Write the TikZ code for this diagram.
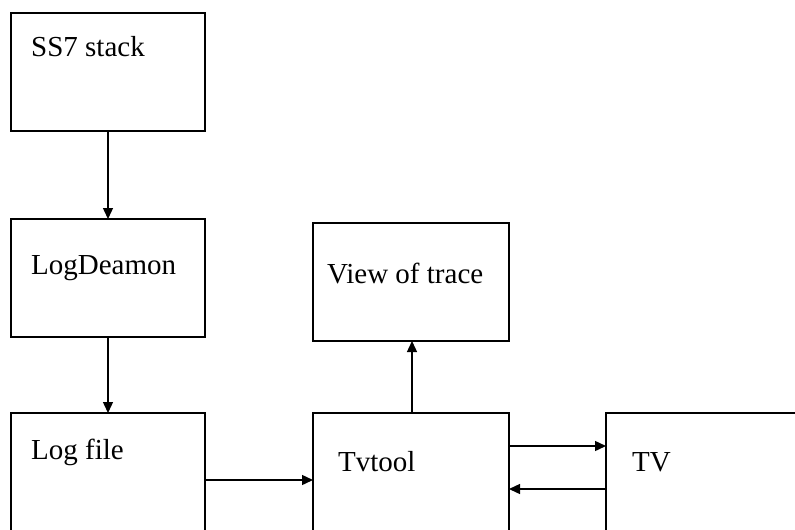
\documentclass[tikz,border=0pt]{standalone}
\usepackage{fontspec}
\setmainfont{Liberation Serif}
\usetikzlibrary{arrows.meta}
\begin{document}
\begin{tikzpicture}[x=1pt,y=-1pt,
  box/.style={draw=black,line width=1.4pt,rectangle,inner sep=0pt,outer sep=0pt,anchor=north west},
  lbl/.style={anchor=base west,inner sep=0pt,font=\fontsize{29}{31}\selectfont},
  arr/.style={line width=1.4pt,-{Triangle[length=11pt,width=10pt]}}]
\clip (0,0) rectangle (795,530);
\fill[white] (0,0) rectangle (795,530);
\node[box,minimum width=194pt,minimum height=118pt] (ss7) at (11,13) {};
\node[box,minimum width=194pt,minimum height=118pt] (logd) at (11,219) {};
\node[box,minimum width=194pt,minimum height=190pt] (logf) at (11,413) {};
\node[box,minimum width=196pt,minimum height=118pt] (view) at (313,223) {};
\node[box,minimum width=196pt,minimum height=190pt] (tvt) at (313,413) {};
\node[box,minimum width=300pt,minimum height=190pt] (tv) at (606,413) {};
\node[lbl] (ss7t) at (31,56) {SS7 stack};
\node[lbl] (logdt) at (31,274) {LogDeamon};
\node[lbl] (logft) at (31,459) {Log file};
\node[lbl] (viewt) at (327,283) {View of trace};
\node[lbl] (tvtt) at (338,471) {Tvtool};
\node[lbl] (tvt2) at (632,471) {TV};
\draw[arr] (ss7.south) -- (logd.north);
\draw[arr] (logd.south) -- (logf.north);
\draw[arr] (logf.east |- 0,480) -- (tvt.west |- 0,480);
\draw[arr] (tvt.north -| 412,0) -- (view.south -| 412,0);
\draw[arr] (tvt.east |- 0,446) -- (tv.west |- 0,446);
\draw[arr] (tv.west |- 0,489) -- (tvt.east |- 0,489);
\end{tikzpicture}
\end{document}
